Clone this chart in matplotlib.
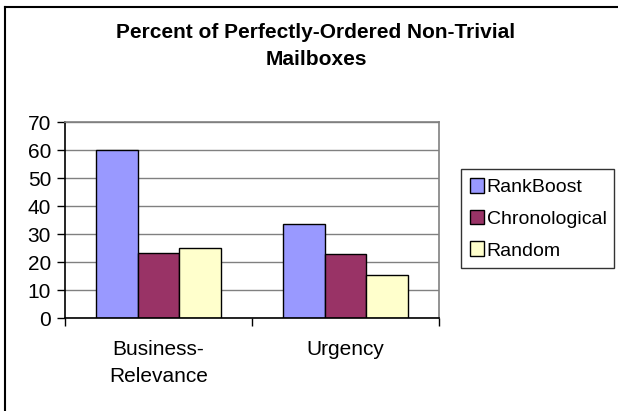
import matplotlib
matplotlib.use("Agg")
from matplotlib import pyplot as plt
from matplotlib.lines import Line2D
import numpy as np

plt.rcParams['font.family'] = ['Liberation Sans', 'DejaVu Sans']

# values
categories = ['Business-\nRelevance', 'Urgency']
series_names = ['RankBoost', 'Chronological', 'Random']
rankboost = [60.0, 33.6]
chronological = [23.3, 22.8]
random_order = [25.0, 15.4]
yticks = [0, 10, 20, 30, 40, 50, 60, 70]

colors = ['#9999FF', '#993366', '#FFFFCC']

fig = plt.figure(figsize=(6.18, 4.11), dpi=100)
ax = fig.add_axes([65 / 618, 1 - 318 / 411, (439 - 65) / 618, (318 - 122) / 411])

x = np.arange(len(categories))
width = 0.222
values = [rankboost, chronological, random_order]
for i, (name, vals) in enumerate(zip(series_names, values)):
    ax.bar(x + (i - 1) * width, vals, width, color=colors[i], edgecolor='black',
           linewidth=1.0, label=name, zorder=3)

ax.set_xlim(-0.5, 1.5)
ax.set_ylim(0, 70)
ax.set_yticks(yticks)
ax.yaxis.grid(True, color='#808080', linewidth=1.0, zorder=0)
ax.tick_params(axis='y', direction='out', length=6, width=1, labelsize=15, pad=4)

# category labels in the middle, ticks at the category boundaries
ax.set_xticks([-0.5, 0.5, 1.5])
ax.set_xticklabels([])
ax.set_xticks(x, minor=True)
ax.set_xticklabels(categories, minor=True, fontsize=15, linespacing=1.5)
ax.tick_params(axis='x', which='major', direction='out', length=6, width=1)
ax.tick_params(axis='x', which='minor', length=0, pad=16)

ax.spines['left'].set_color('black')
ax.spines['bottom'].set_color('black')
ax.spines['top'].set_color('#808080')
ax.spines['right'].set_color('#808080')
for s in ax.spines.values():
    s.set_linewidth(1.2)
    s.set_zorder(4)

leg = ax.legend(loc='upper left', bbox_to_anchor=(461 / 618, 1 - 271 / 411, (614 - 461) / 618, (271 - 169) / 411),
                bbox_transform=fig.transFigure, mode='expand', frameon=True, fancybox=False,
                fontsize=14, handlelength=0.75, handleheight=0.8, handletextpad=0.12,
                labelspacing=0.7, borderpad=0.45, borderaxespad=0)
leg.get_frame().set_edgecolor('black')
leg.get_frame().set_linewidth(1.0)

fig.text(316 / 618, 1 - 46 / 411, 'Percent of Perfectly-Ordered Non-Trivial\nMailboxes',
         ha='center', va='center', fontsize=15, fontweight='bold', linespacing=1.55)

# chart area border (only left and top show in the reference)
fig.add_artist(Line2D([5 / 618, 5 / 618], [0, 1 - 7 / 411], color='black', linewidth=1.5))
fig.add_artist(Line2D([5 / 618, 1], [1 - 7 / 411, 1 - 7 / 411], color='black', linewidth=1.5))

fig.savefig('out.png', dpi=100)
